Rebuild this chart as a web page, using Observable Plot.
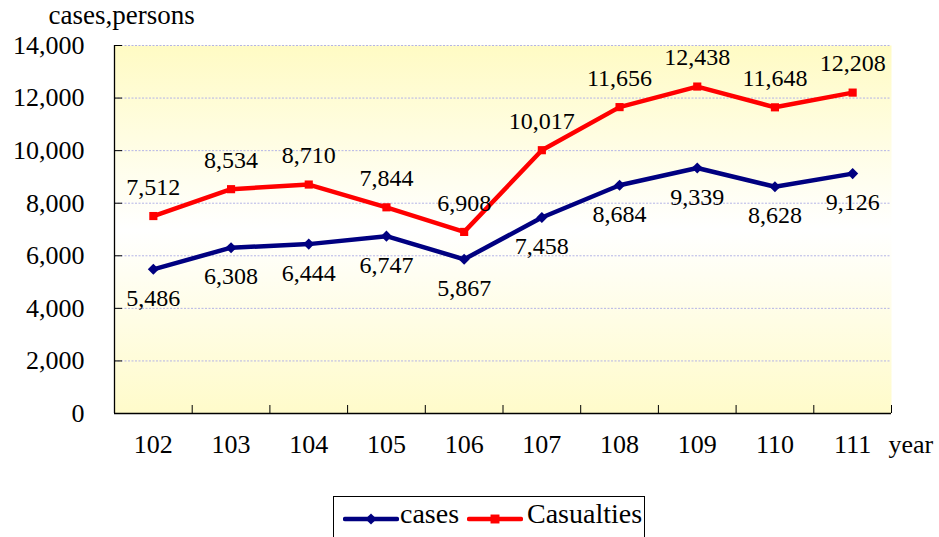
<!DOCTYPE html>
<html>
<head>
<meta charset="utf-8">
<script src="https://cdn.jsdelivr.net/npm/d3@7"></script>
<script src="https://cdn.jsdelivr.net/npm/@observablehq/plot@0.6"></script>
<style>
  html, body { margin: 0; padding: 0; background: #fff; overflow: hidden; }
  #wrap { position: relative; width: 939px; height: 537px; font-family: "Liberation Serif", "Times New Roman", serif; }
  #chart svg, #chart svg text { font-family: "Liberation Serif", "Times New Roman", serif; }
  #legend { position: absolute; left: 333px; top: 496px; width: 312px; height: 60px; border: 1px solid #000; box-sizing: border-box; background: #fff; }
  #legend .sw { position: absolute; top: 15px; }
  #legend .lab { position: absolute; top: 0px; font-size: 28px; line-height: 34px; color: #000; white-space: nowrap; }
</style>
</head>
<body>
<div id="wrap">
  <div id="chart"></div>
  <div id="legend"></div>
</div>
<script>
// Annual figures, ROC years 102–111
const years = [102, 103, 104, 105, 106, 107, 108, 109, 110, 111];
const cases = [5486, 6308, 6444, 6747, 5867, 7458, 8684, 9339, 8628, 9126];
const casualties = [7512, 8534, 8710, 7844, 6908, 10017, 11656, 12438, 11648, 12208];
const yTicks = [0, 2000, 4000, 6000, 8000, 10000, 12000, 14000];
const seriesNames = ["cases", "Casualties"];
const seriesColors = ["#000080", "#ff0000"];
const unitLabel = "cases,persons";
const xLabel = "year";

const fmt = d3.format(",");
const casesRows = years.map((year, i) => ({year, value: cases[i], series: seriesNames[0]}));
const casualtyRows = years.map((year, i) => ({year, value: casualties[i], series: seriesNames[1]}));
const rows = casesRows.concat(casualtyRows);
const boundaries = years.map(y => y + 0.5);

const W = 939, H = 490;
const mL = 114, mR = 48, mT = 45, mB = 77;
const frameW = W - mL - mR, frameH = H - mT - mB;
const serif = '"Liberation Serif", "Times New Roman", serif';

// soft yellow background fill for the plotting area
function gradientDefs() {
  const defs = d3.create("svg:defs");
  const g = defs.append("linearGradient")
    .attr("id", "bgFill").attr("x1", 0).attr("y1", 0).attr("x2", 0).attr("y2", 1);
  g.append("stop").attr("offset", "0%").attr("stop-color", "#fffbc4");
  g.append("stop").attr("offset", "50%").attr("stop-color", "#ffffff");
  g.append("stop").attr("offset", "100%").attr("stop-color", "#fffbca");
  return defs.node();
}

const chart = Plot.plot({
  width: W,
  height: H,
  marginLeft: mL,
  marginRight: mR,
  marginTop: mT,
  marginBottom: mB,
  style: {fontFamily: serif, fontSize: "26px", color: "#000", background: "transparent", overflow: "visible"},
  x: {type: "linear", domain: [years[0] - 0.5, years[years.length - 1] + 0.5], axis: null},
  y: {domain: [0, yTicks[yTicks.length - 1]], axis: null},
  color: {domain: seriesNames, range: seriesColors},
  marks: [
    gradientDefs,
    Plot.frame({fill: "url(#bgFill)", stroke: null}),
    Plot.ruleY(yTicks.slice(1), {stroke: "#b4b4e6", strokeWidth: 1, strokeDasharray: "2,1.5"}),
    Plot.ruleX([years[0] - 0.5], {stroke: "#000", strokeWidth: 1.3}),
    Plot.ruleY([0], {stroke: "#000", strokeWidth: 1.3}),
    Plot.tickY(yTicks, {y: d => d, stroke: "#000", insetRight: frameW - 8}),
    Plot.tickX(boundaries, {x: d => d, stroke: "#000", insetTop: frameH - 8}),
    Plot.axisY(yTicks, {tickSize: 0, tickPadding: 30, tickFormat: fmt, fontSize: 26, label: null}),
    Plot.axisX(years, {tickSize: 0, tickPadding: 21, tickFormat: d => String(d), fontSize: 26, label: null}),
    Plot.text([xLabel], {text: d => d, frameAnchor: "bottom-right", textAnchor: "start", lineAnchor: "top", dx: -3, dy: 21, fontSize: 26}),
    Plot.text([unitLabel], {text: d => d, frameAnchor: "top-left", textAnchor: "start", lineAnchor: "middle", dx: -66, dy: -30, fontSize: 27}),
    Plot.line(rows, {x: "year", y: "value", z: "series", stroke: "series", strokeWidth: 4.5, strokeLinejoin: "round"}),
    Plot.dot(casesRows, {x: "year", y: "value", symbol: "diamond2", r: 5, fill: seriesColors[0], stroke: null}),
    Plot.dot(casualtyRows, {x: "year", y: "value", symbol: "square", r: 4.6, fill: seriesColors[1], stroke: null}),
    Plot.text(casesRows, {x: "year", y: "value", text: d => fmt(d.value), dy: 29, fontSize: 24}),
    Plot.text(casualtyRows, {x: "year", y: "value", text: d => fmt(d.value), dy: -29, fontSize: 24})
  ]
});
document.getElementById("chart").appendChild(chart);

// legend below the chart
const legend = d3.select("#legend");
const items = [
  {name: seriesNames[0], color: seriesColors[0], symbol: d3.symbolDiamond2, swLeft: 9, labLeft: 66},
  {name: seriesNames[1], color: seriesColors[1], symbol: d3.symbolSquare, swLeft: 133, labLeft: 193}
];
for (const it of items) {
  const sw = legend.append("svg").attr("class", "sw")
    .attr("width", 56).attr("height", 14)
    .style("left", it.swLeft + "px");
  sw.append("line").attr("x1", 2).attr("x2", 54).attr("y1", 7).attr("y2", 7)
    .attr("stroke", it.color).attr("stroke-width", 4.5).attr("stroke-linecap", "round");
  sw.append("path").attr("transform", "translate(28,7)")
    .attr("d", d3.symbol(it.symbol, 80)()).attr("fill", it.color);
  legend.append("div").attr("class", "lab").style("left", it.labLeft + "px").text(it.name);
}
</script>
</body>
</html>
